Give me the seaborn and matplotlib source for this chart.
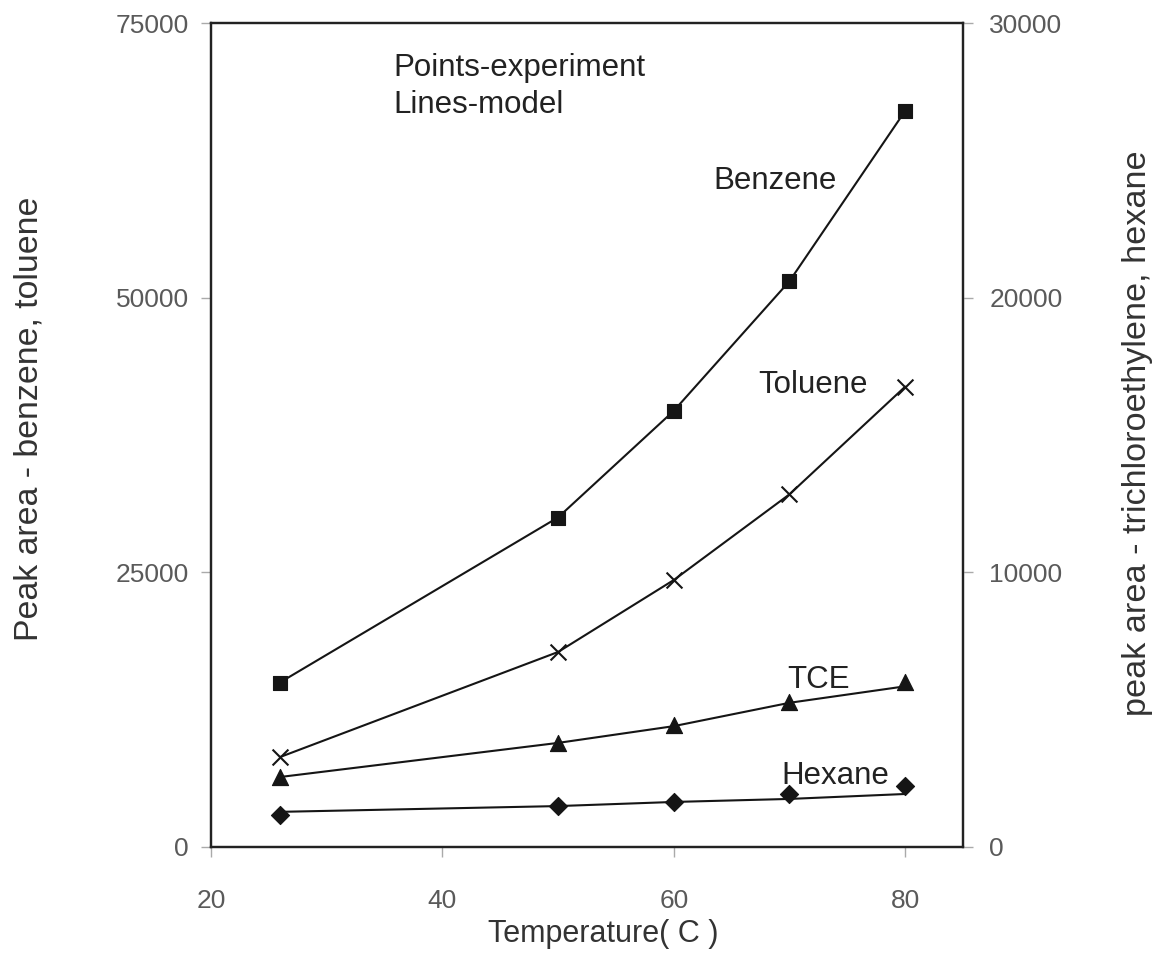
import matplotlib
matplotlib.use("Agg")
import matplotlib.pyplot as plt
import seaborn as sns
import pandas as pd

# Temperatures (C)
temperature = [26, 50, 60, 70, 80]

# Experimental peak areas (points)
benzene_exp = [14900, 29950, 39700, 51500, 67000]
toluene_exp = [8200, 17750, 24300, 32130, 41900]
tce_exp = [2550, 3790, 4440, 5280, 6010]
hexane_exp = [1170, 1490, 1640, 1930, 2220]

# Model peak areas (lines)
benzene_model = [15000, 30000, 39700, 51500, 67000]
toluene_model = [8200, 17750, 24300, 32100, 41900]
tce_model = [2550, 3790, 4400, 5250, 5850]
hexane_model = [1280, 1490, 1640, 1750, 1930]

left_ticks = [0, 25000, 50000, 75000]
right_ticks = [0, 10000, 20000, 30000]
x_ticks = [20, 40, 60, 80]

sns.set_theme(style="white")
plt.rcParams["font.family"] = ["Liberation Sans", "DejaVu Sans"]

INK = "#151515"
TICK_TEXT = "#5a5a5a"
LABEL_TEXT = "#333333"

fig = plt.figure(figsize=(11.56, 9.6), dpi=100)
ax = fig.add_axes([0.18253, 0.11771, 0.65052, 0.85833])
ax2 = ax.twinx()

series = [
    ("Benzene", benzene_exp, benzene_model, ax, "s", 100, 0.8),
    ("Toluene", toluene_exp, toluene_model, ax, "x", 130, 1.5),
    ("TCE", tce_exp, tce_model, ax2, "^", 135, 0.8),
    ("Hexane", hexane_exp, hexane_model, ax2, "D", 85, 0.8),
]

for name, exp, model, target, marker, size, mlw in series:
    model_df = pd.DataFrame({"Temperature": temperature, "Peak area": model})
    exp_df = pd.DataFrame({"Temperature": temperature, "Peak area": exp})
    sns.lineplot(data=model_df, x="Temperature", y="Peak area", ax=target,
                 color=INK, linewidth=1.5, zorder=3)
    sns.scatterplot(data=exp_df, x="Temperature", y="Peak area", ax=target,
                    marker=marker, s=size, color=INK, edgecolor=INK,
                    linewidth=mlw, zorder=4)

ax.set_xlim(20, 85)
ax.set_ylim(0, 75000)
ax2.set_ylim(0, 30000)
ax.set_xticks(x_ticks)
ax.set_yticks(left_ticks)
ax2.set_yticks(right_ticks)
ax.set_xlabel("")
ax.set_ylabel("")
ax2.set_ylabel("")

for a in (ax, ax2):
    for sp in a.spines.values():
        sp.set_color("#222222")
        sp.set_linewidth(1.6)

ax.tick_params(axis="y", left=True, length=7, width=1, color="#aaaaaa",
               labelsize=19, labelcolor=TICK_TEXT, pad=9)
ax.tick_params(axis="x", bottom=True, length=7, width=1, color="#aaaaaa",
               labelsize=19, labelcolor=TICK_TEXT, pad=23)
ax2.tick_params(axis="y", right=True, length=7, width=1, color="#aaaaaa",
                labelsize=19, labelcolor=TICK_TEXT, pad=12)

# Axis titles
fig.text(0.5216, 0.0185, "Temperature( C )", ha="center", va="baseline",
         fontsize=22, color=LABEL_TEXT)
fig.text(0.0247, 0.564, "Peak area - benzene, toluene", ha="center",
         va="center", rotation=90, fontsize=24.4, color=LABEL_TEXT)
fig.text(0.9844, 0.5484, "peak area - trichloroethylene, hexane", ha="center",
         va="center", rotation=90, fontsize=24.7, color=LABEL_TEXT)

# Note and series names
note_kw = dict(transform=ax.transAxes, fontsize=22.5, color="#222222",
               ha="left", va="baseline")
ax.text(0.242, 0.9357, "Points-experiment", **note_kw)
ax.text(0.242, 0.8908, "Lines-model", **note_kw)
ax.text(0.6676, 0.7985, "Benzene", **note_kw)
ax.text(0.7274, 0.551, "Toluene", **note_kw)
ax.text(0.766, 0.193, "TCE", **note_kw)
ax.text(0.758, 0.0765, "Hexane", **note_kw)

fig.savefig("out.png", dpi=100, facecolor="white")
